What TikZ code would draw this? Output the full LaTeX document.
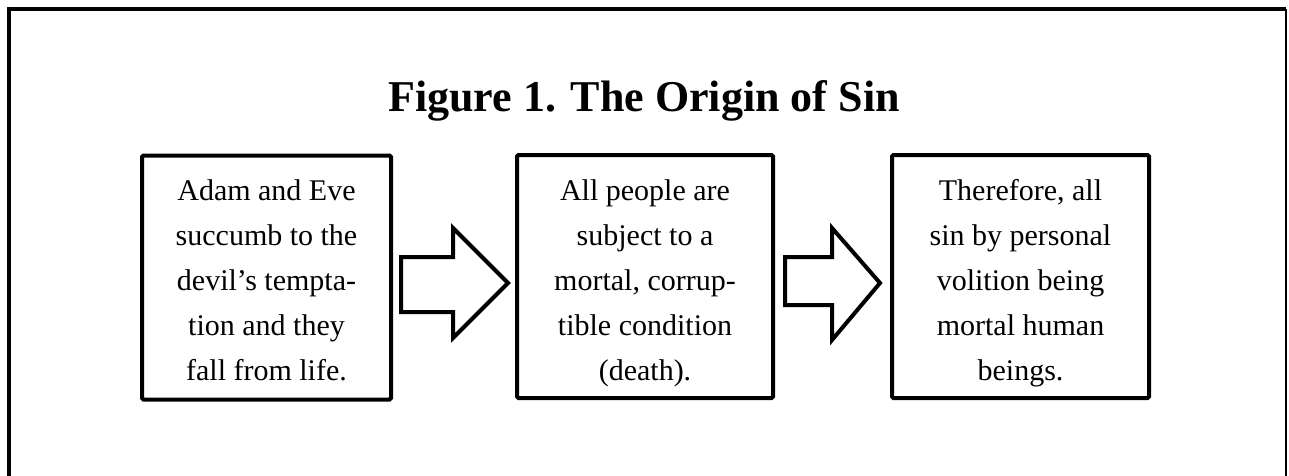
\documentclass[tikz,border=0pt]{standalone}
\usepackage{fontspec}
\setmainfont{Liberation Serif}
\tikzset{
  box/.style={draw, line width=4pt, rounded corners=1.5pt, inner sep=0pt},
  txt/.style={align=center, font=\fontsize{30}{45}\selectfont, inner sep=0pt},
  blockarrow/.style={draw, line width=4pt, line join=miter, fill=white},
  ttl/.style={font=\bfseries\fontsize{44}{50}\selectfont, anchor=base, inner sep=0pt}
}
\begin{document}
\begin{tikzpicture}[x=1pt,y=-1pt]
\useasboundingbox (0,0) rectangle (1289,476);
\clip (0,0) rectangle (1289,476);
% outer frame
\draw[line width=4pt] (9,495) -- (9,9) -- (1286,9);
\draw[line width=1.5pt] (1286,9) -- (1286,495);
% title
\node[ttl] (title) at (644,112) {Figure 1. The Origin of Sin};
% boxes
\node[box, minimum width=249pt, minimum height=244pt] (b1) at (266.5,277.5) {};
\node[box, minimum width=256pt, minimum height=243pt] (b2) at (645,276.5) {};
\node[box, minimum width=257pt, minimum height=243pt] (b3) at (1020.5,276.5) {};
\node[txt] (t1) at (266.5,281) {\strut Adam and Eve\\succumb to the\\devil’s tempta-\\tion and they\\fall from life.\strut};
\node[txt] (t2) at (645,281) {\strut All people are\\subject to a\\mortal, corrup-\\tible condition\\(death).\strut};
\node[txt] (t3) at (1020.5,281) {\strut Therefore, all\\sin by personal\\volition being\\mortal human\\beings.\strut};
% block arrows
\draw[blockarrow] (401,257) -- (453,257) -- (453,228) -- (508,283) -- (453,338) -- (453,312) -- (401,312) -- cycle;
\draw[blockarrow] (785,257) -- (832,257) -- (832,228) -- (880,283) -- (832,340) -- (832,305) -- (785,305) -- cycle;
\end{tikzpicture}
\end{document}
